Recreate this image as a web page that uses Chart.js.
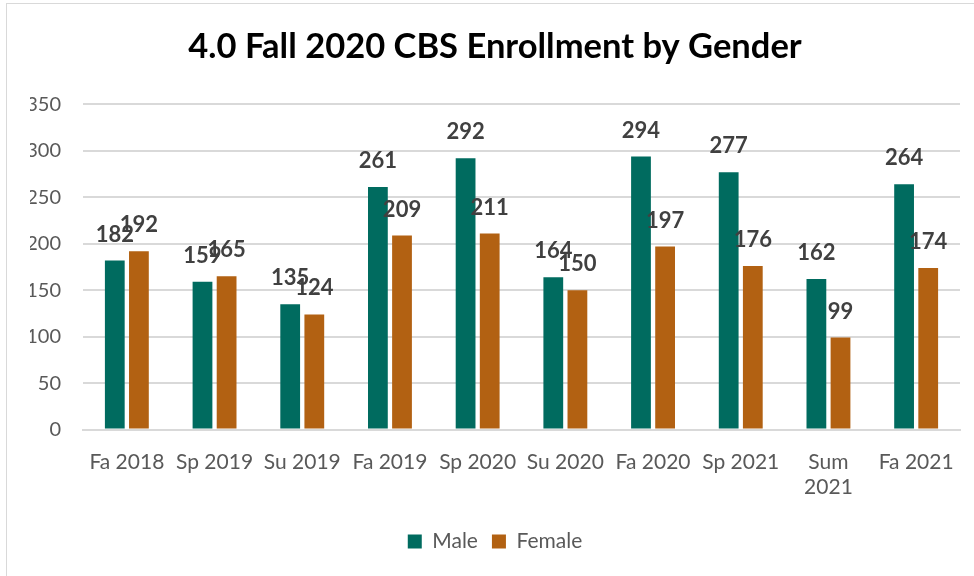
<!DOCTYPE html>
<html>
<head>
<meta charset="utf-8">
<script src="https://cdn.jsdelivr.net/npm/chart.js@4.4.0/dist/chart.umd.min.js"></script>
<style>
  html, body { margin: 0; padding: 0; background: #fff; overflow: hidden; }
  #wrap { position: relative; width: 974px; height: 576px; }
  #frame { position: absolute; left: 6px; top: 3px; width: 1000px; height: 620px; border: 1.5px solid #d9d9d9; }
  canvas { position: absolute; left: 0; top: 0; }
</style>
</head>
<body>
<div id="wrap">
  <div id="frame"></div>
  <canvas id="chart" width="974" height="576"></canvas>
</div>
<script>
// Données
const terms = ['Fa 2018', 'Sp 2019', 'Su 2019', 'Fa 2019', 'Sp 2020', 'Su 2020', 'Fa 2020', 'Sp 2021', ['Sum', '2021'], 'Fa 2021'];
const male = [182, 159, 135, 261, 292, 164, 294, 277, 162, 264];
const female = [192, 165, 124, 209, 211, 150, 197, 176, 99, 174];

const maleColor = '#006B5F';
const femaleColor = '#B26112';
const fontName = 'Lato, "Open Sans", sans-serif';

// Étiquettes de valeur au-dessus des barres
const valueLabels = {
    id: 'valueLabels',
    afterDatasetsDraw(chart) {
        const ctx = chart.ctx;
        ctx.save();
        ctx.font = 'bold 22px ' + fontName;
        ctx.fillStyle = '#404040';
        ctx.textAlign = 'center';
        ctx.textBaseline = 'bottom';
        chart.data.datasets.forEach((ds, i) => {
            const meta = chart.getDatasetMeta(i);
            meta.data.forEach((bar, j) => {
                ctx.fillText(ds.data[j], bar.x, bar.y - 15);
            });
        });
        ctx.restore();
    }
};

new Chart(document.getElementById('chart'), {
    type: 'bar',
    data: {
        labels: terms,
        datasets: [
            { label: 'Male', data: male, backgroundColor: maleColor },
            { label: 'Female', data: female, backgroundColor: femaleColor }
        ]
    },
    options: {
        responsive: false,
        animation: false,
        layout: { padding: { left: 30, right: 14, top: 22, bottom: 14 } },
        datasets: {
            bar: { categoryPercentage: 0.55, barPercentage: 0.82 }
        },
        plugins: {
            title: {
                display: true,
                text: '4.0 Fall 2020 CBS Enrollment by Gender',
                color: '#000',
                font: { family: fontName, size: 34.5, weight: 'bold' },
                padding: { top: 4, bottom: 37 }
            },
            legend: {
                position: 'bottom',
                labels: {
                    color: '#595959',
                    font: { family: fontName, size: 21 },
                    boxWidth: 14,
                    boxHeight: 14,
                    padding: 14
                }
            },
            tooltip: { enabled: false }
        },
        scales: {
            x: {
                grid: { display: false },
                border: { color: '#d9d9d9', width: 2 },
                ticks: {
                    color: '#595959',
                    font: { family: fontName, size: 21 },
                    padding: 12,
                    maxRotation: 0,
                    autoSkip: false
                },
                afterFit(scale) { scale.height += 5; }
            },
            y: {
                min: 0,
                max: 350,
                grid: { color: '#d9d9d9', lineWidth: 2, drawTicks: false },
                border: { display: false },
                ticks: {
                    stepSize: 50,
                    color: '#595959',
                    font: { family: fontName, size: 20 },
                    padding: 22
                },
                // largeur fixe pour garder la zone de tracé à gauche
                afterFit(scale) { scale.width = 53; }
            }
        }
    },
    plugins: [valueLabels]
});
</script>
</body>
</html>
